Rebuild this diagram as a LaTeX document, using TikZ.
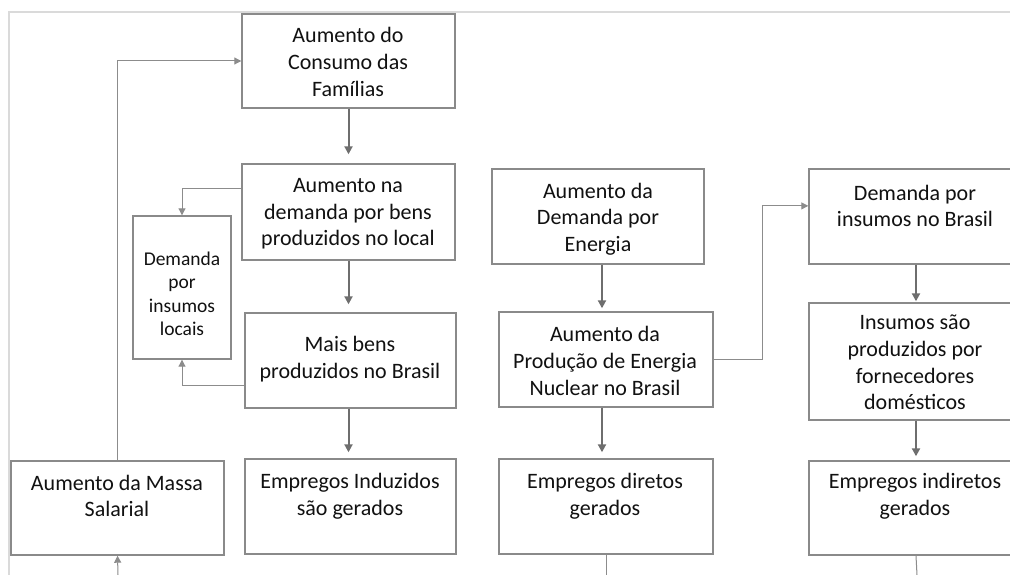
\documentclass[tikz,border=0pt]{standalone}
\usepackage{fontspec}
\setmainfont{Carlito}
\usetikzlibrary{arrows.meta,calc}
\definecolor{boxgray}{HTML}{8A8A8A}
\definecolor{arrgray}{HTML}{6E6E6E}
\definecolor{thingray}{HTML}{8C8C8C}
\definecolor{framegray}{HTML}{DADADA}
\definecolor{textcol}{HTML}{111111}
\begin{document}
\begin{tikzpicture}[x=1pt,y=-1pt,
  box/.style={draw=boxgray,line width=1.4pt,rectangle,inner sep=0pt},
  txt/.style={align=center,inner sep=0pt,text=textcol,font=\fontsize{22}{26.7}\selectfont},
  smalltxt/.style={align=center,inner sep=0pt,text=textcol,font=\fontsize{19.5}{23.5}\selectfont},
  thickarr/.style={draw=arrgray,line width=2pt,-{Triangle[width=8pt,length=8pt]}},
  thinarr/.style={draw=thingray,line width=1pt,-{Triangle[width=7pt,length=7pt]}},
  thinline/.style={draw=thingray,line width=1pt}]
\useasboundingbox (0,0) rectangle (1010,575);
\fill[white] (0,0) rectangle (1010,575);
\draw[framegray,line width=1.5pt] (9,575) -- (9,12) -- (1015,12);

% boxes
\node[box,minimum width=213pt,minimum height=94pt] (cons) at (348.5,61) {};
\node[box,minimum width=213pt,minimum height=96pt] (nadem) at (348.5,212) {};
\node[box,minimum width=98pt,minimum height=143pt] (locais) at (182,287.5) {};
\node[box,minimum width=211pt,minimum height=95pt] (mais) at (350.5,360.5) {};
\node[box,minimum width=211pt,minimum height=95pt] (empind) at (350.5,506.5) {};
\node[box,minimum width=213pt,minimum height=94pt] (massa) at (117.5,508) {};
\node[box,minimum width=212pt,minimum height=95pt] (energ) at (598,216.5) {};
\node[box,minimum width=214pt,minimum height=95pt] (prod) at (606,359.5) {};
\node[box,minimum width=214pt,minimum height=95pt] (empdir) at (606,506.5) {};
\node[box,minimum width=214pt,minimum height=95pt] (insbr) at (916,216.5) {};
\node[box,minimum width=214pt,minimum height=117pt] (insprod) at (916,361.5) {};
\node[box,minimum width=214pt,minimum height=94pt] (empindir) at (916,508) {};

% texts
\node[txt] (tcons) at (348,62) {Aumento do\\Consumo das\\Famílias};
\node[txt] (tnadem) at (348,214) {Aumento na\\demanda por bens\\produzidos no local};
\node[smalltxt] (tlocais) at (182,294) {Demanda\\por\\insumos\\locais};
\node[txt] (tmais) at (350,359) {Mais bens\\produzidos no Brasil};
\node[txt] (tempind) at (350,496) {Empregos Induzidos\\são gerados};
\node[txt] (tmassa) at (117,496) {Aumento da Massa\\Salarial};
\node[txt] (tenerg) at (598,219) {Aumento da\\Demanda por\\Energia};
\node[txt] (tprod) at (605,361) {Aumento da\\Produção de Energia\\Nuclear no Brasil};
\node[txt] (tempdir) at (605,496) {Empregos diretos\\gerados};
\node[txt] (tinsbr) at (915,206) {Demanda por\\insumos no Brasil};
\node[txt] (tinsprod) at (915,362.5) {Insumos são\\produzidos por\\fornecedores\\domésticos};
\node[txt] (tempindir) at (915,496) {Empregos indiretos\\gerados};

% helper coordinates
\coordinate (mbot) at (118,575);
\coordinate (dirbot) at (606,575);
\coordinate (indbot) at (917,575);
\coordinate (elbow) at (762,0);
\coordinate (nadout) at ($(nadem.north west)!0.26!(nadem.south west)$);
\coordinate (maisout) at ($(mais.north west)!0.76!(mais.south west)$);
\coordinate (insin) at ($(insbr.north west)!0.39!(insbr.south west)$);
\coordinate (m1) at ($(energ.south)!0.5!(prod.north)$);

% thick arrows
\draw[thickarr,shorten >=9pt] (cons.south) -- (nadem.north);
\draw[thickarr,shorten >=8pt] (nadem.south) -- (nadem.south |- mais.north);
\draw[thickarr,shorten >=6pt] (nadem.south |- mais.south) -- (nadem.south |- empind.north);
\draw[thickarr,shorten >=3pt] (m1 |- energ.south) -- (m1 |- prod.north);
\draw[thickarr,shorten >=6pt] (m1 |- prod.south) -- (m1 |- empdir.north);
\draw[thickarr,shorten >=1pt] (insbr.south) -- (insprod.north);
\draw[thickarr,shorten >=4pt] (insprod.south) -- (empindir.north);

% thin connectors
\draw[thinarr] (nadout) -| (locais.north);
\draw[thinarr] (maisout) -| (locais.south);
\draw[thinarr] (massa.north) |- (cons.west);
\draw[thinarr] (mbot) -- (massa.south);
\draw[thinarr] (prod.east) -- (prod.east -| elbow) |- (insin);
\draw[thinline] (empdir.south) -- (dirbot);
\draw[thinline] (empindir.south) -- (indbot);
\end{tikzpicture}
\end{document}
